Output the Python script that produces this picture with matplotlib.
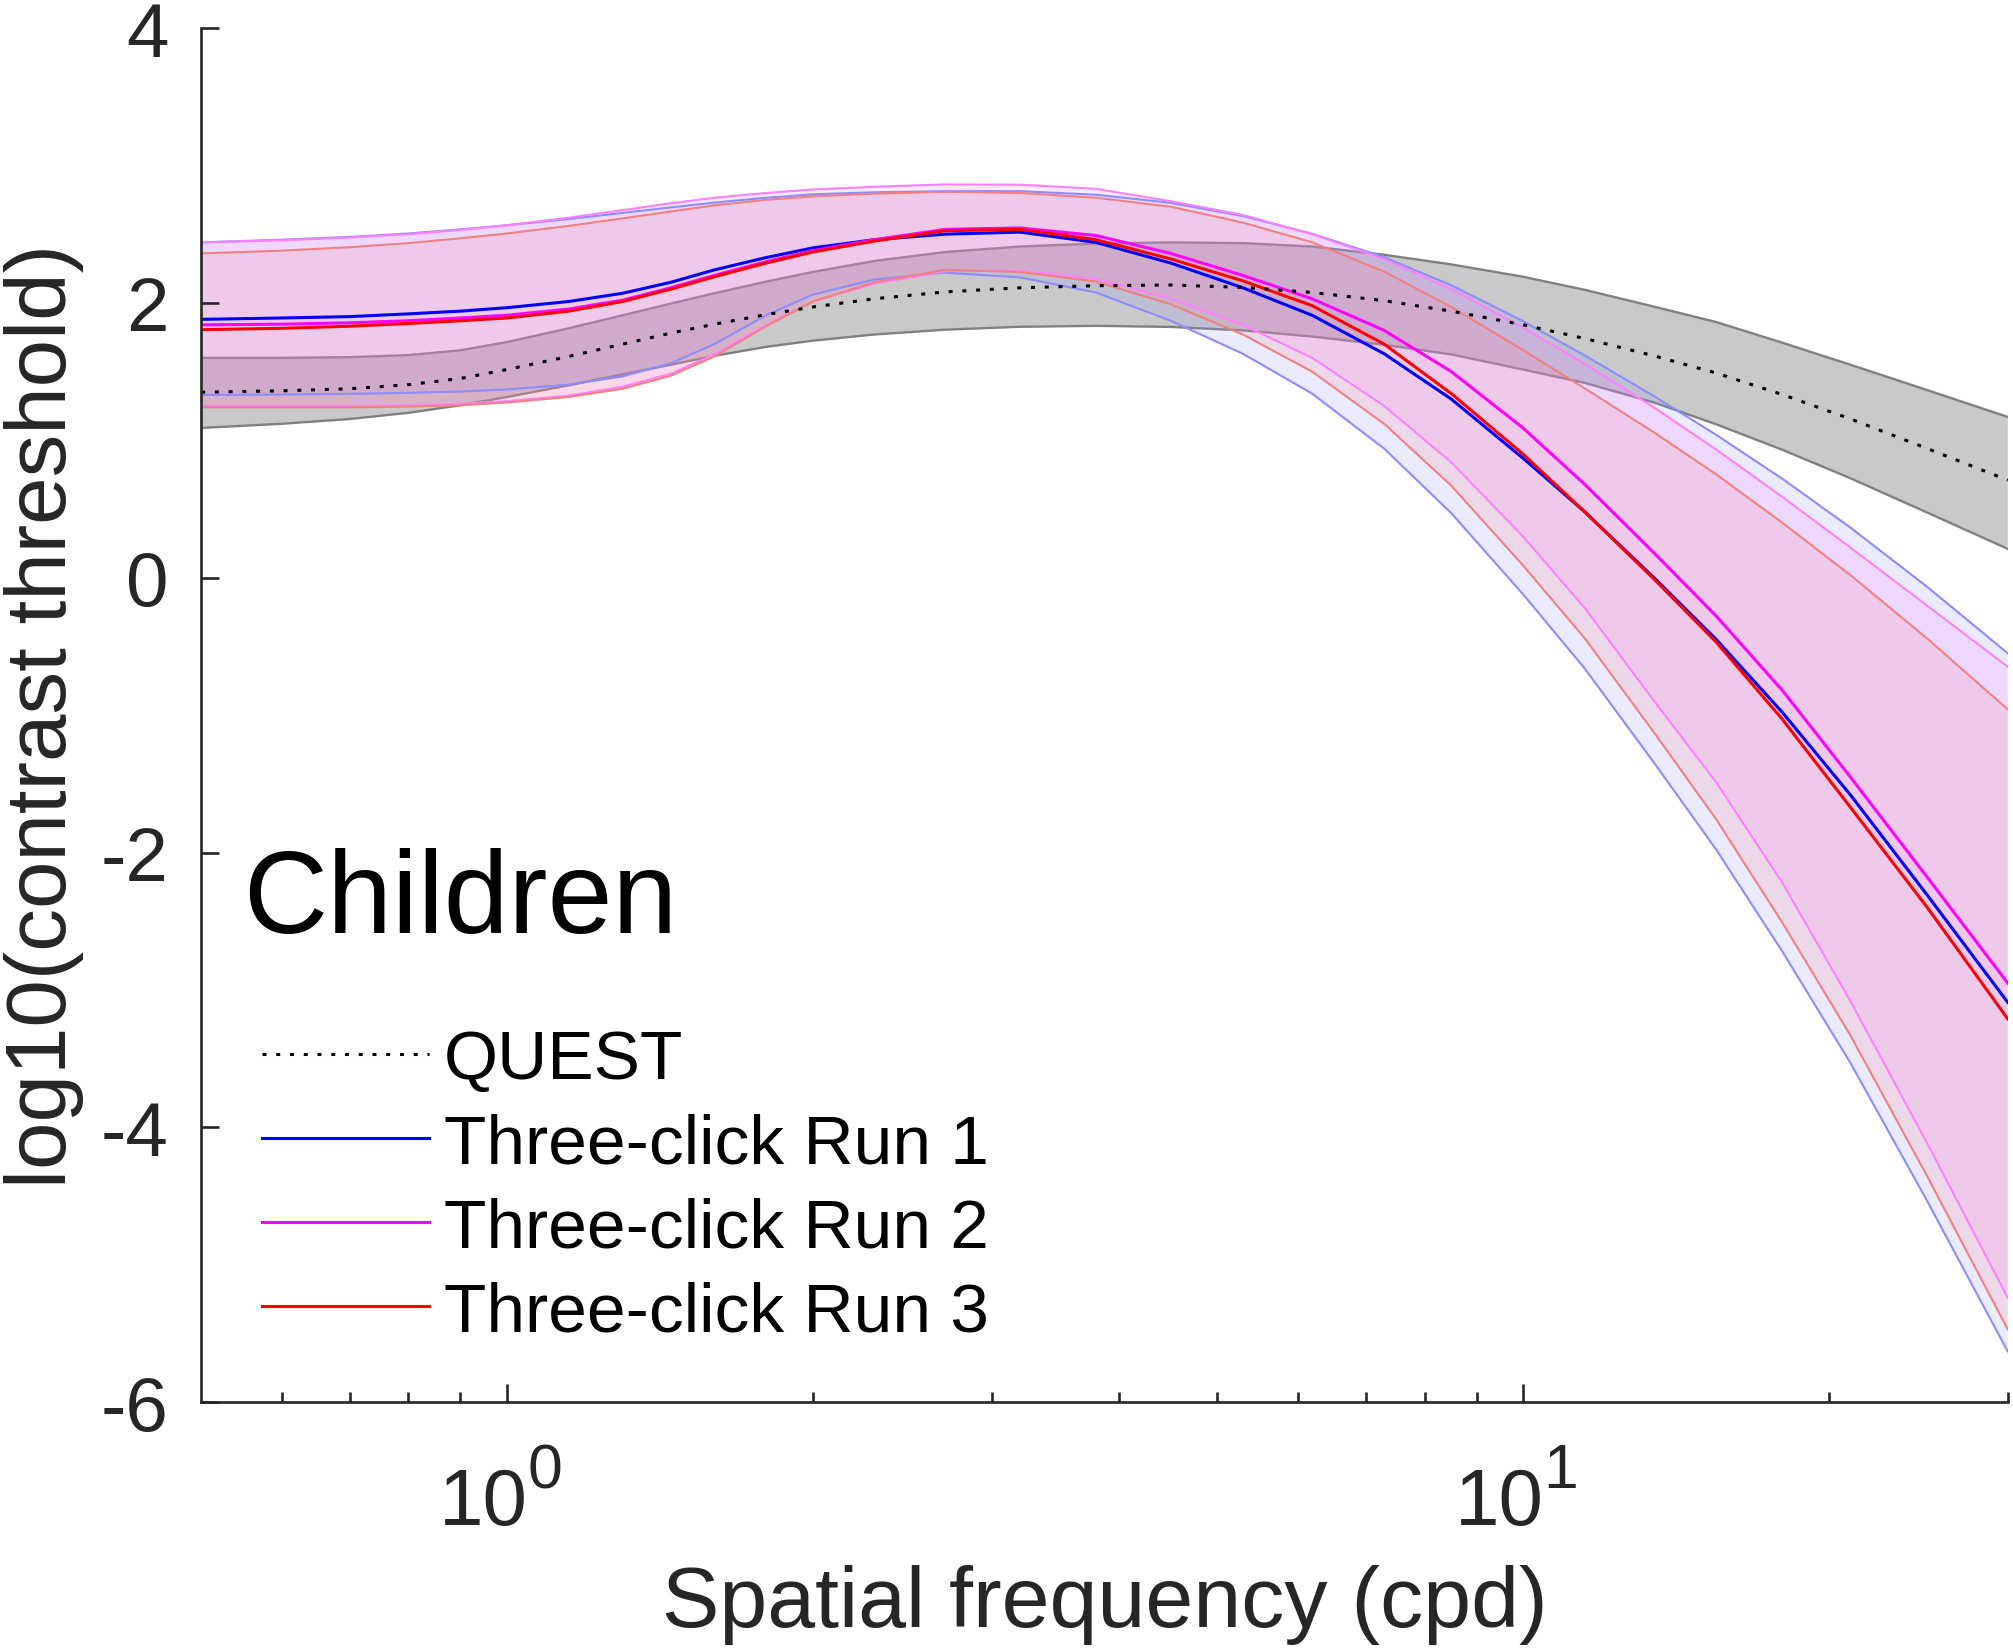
import numpy as np
import matplotlib.pyplot as plt
from matplotlib.ticker import FixedLocator, NullFormatter
from matplotlib.transforms import blended_transform_factory, offset_copy

plt.rcParams['font.family'] = ['Liberation Sans', 'DejaVu Sans']
plt.rcParams['axes.unicode_minus'] = False

freq = [0.5, 0.6, 0.7, 0.8, 0.9, 1.0, 1.15, 1.3, 1.45, 1.6, 1.8, 2.0, 2.3, 2.7,
        3.2, 3.8, 4.5, 5.3, 6.2, 7.3, 8.5, 10, 11.5, 13.5, 15.5, 18, 21, 25, 30]

# QUEST: mean and band
quest_mean = [1.35, 1.36, 1.375, 1.405, 1.45, 1.515, 1.61, 1.70, 1.78, 1.845, 1.915, 1.97,
              2.03, 2.08, 2.11, 2.125, 2.13, 2.113, 2.076, 2.016, 1.94, 1.841, 1.741, 1.612,
              1.489, 1.333, 1.156, 0.94, 0.71]
quest_hi = [1.60, 1.60, 1.605, 1.62, 1.655, 1.715, 1.815, 1.91, 1.995, 2.07, 2.155, 2.225,
            2.305, 2.37, 2.41, 2.432, 2.44, 2.435, 2.41, 2.35, 2.28, 2.19, 2.095, 1.97,
            1.86, 1.71, 1.55, 1.365, 1.17]
quest_lo = [1.09, 1.12, 1.155, 1.20, 1.255, 1.315, 1.40, 1.48, 1.55, 1.615, 1.68, 1.725,
            1.77, 1.805, 1.826, 1.833, 1.825, 1.80, 1.755, 1.695, 1.625, 1.515, 1.418, 1.272,
            1.116, 0.931, 0.724, 0.474, 0.21]

# Three-click run 1
run1_mean = [1.88, 1.89, 1.90, 1.92, 1.94, 1.965, 2.01, 2.07, 2.15, 2.24, 2.33, 2.40,
             2.46, 2.50, 2.515, 2.44, 2.29, 2.11, 1.91, 1.63, 1.30, 0.87, 0.48, -0.01,
             -0.45, -0.98, -1.58, -2.31, -3.09]
run1_hi = [2.44, 2.46, 2.48, 2.505, 2.535, 2.565, 2.61, 2.655, 2.695, 2.73, 2.765, 2.79,
           2.805, 2.813, 2.813, 2.787, 2.728, 2.632, 2.503, 2.333, 2.128, 1.867, 1.618, 1.315,
           1.039, 0.72, 0.365, -0.067, -0.55]
run1_lo = [1.33, 1.333, 1.338, 1.345, 1.355, 1.37, 1.405, 1.465, 1.56, 1.70, 1.91, 2.06,
           2.17, 2.22, 2.185, 2.075, 1.87, 1.63, 1.34, 0.94, 0.47, -0.12, -0.66, -1.36,
           -1.98, -2.72, -3.53, -4.537, -5.63]

# Three-click run 2
run2_mean = [1.84, 1.845, 1.855, 1.87, 1.89, 1.91, 1.955, 2.02, 2.11, 2.20, 2.30, 2.38,
             2.46, 2.535, 2.545, 2.49, 2.36, 2.20, 2.03, 1.80, 1.50, 1.09, 0.68, 0.17,
             -0.28, -0.82, -1.45, -2.18, -2.95]
run2_hi = [2.44, 2.455, 2.475, 2.50, 2.53, 2.565, 2.62, 2.675, 2.725, 2.765, 2.80, 2.825,
           2.845, 2.862, 2.86, 2.83, 2.74, 2.64, 2.50, 2.32, 2.10, 1.82, 1.556, 1.232,
           0.932, 0.588, 0.22, -0.204, -0.648]
run2_lo = [1.25, 1.25, 1.25, 1.255, 1.265, 1.285, 1.325, 1.39, 1.485, 1.625, 1.84, 2.01,
           2.14, 2.23, 2.235, 2.175, 2.03, 1.84, 1.60, 1.25, 0.84, 0.30, -0.22, -0.91,
           -1.49, -2.22, -3.08, -4.117, -5.24]

# Three-click run 3
run3_mean = [1.805, 1.815, 1.83, 1.85, 1.87, 1.89, 1.94, 2.01, 2.10, 2.19, 2.29, 2.37,
             2.45, 2.525, 2.535, 2.46, 2.32, 2.16, 1.98, 1.70, 1.34, 0.90, 0.48, -0.02,
             -0.47, -1.03, -1.67, -2.40, -3.21]
run3_hi = [2.36, 2.38, 2.405, 2.435, 2.47, 2.505, 2.56, 2.615, 2.665, 2.71, 2.75, 2.775,
           2.795, 2.808, 2.80, 2.765, 2.70, 2.584, 2.441, 2.228, 1.97, 1.657, 1.378, 1.051,
           0.751, 0.40, 0.019, -0.443, -0.958]
run3_lo = [1.24, 1.24, 1.24, 1.245, 1.255, 1.275, 1.315, 1.375, 1.47, 1.61, 1.83, 2.01,
           2.15, 2.24, 2.225, 2.155, 1.99, 1.77, 1.50, 1.12, 0.67, 0.09, -0.44, -1.14,
           -1.76, -2.51, -3.33, -4.357, -5.47]

labels = ['QUEST', 'Three-click Run 1', 'Three-click Run 2', 'Three-click Run 3']
xmajor = [1, 10]
xmajor_exp = ['0', '1']

AX_COL = '#262626'
runs = [
    (run1_mean, run1_lo, run1_hi, (0, 0, 1), (0.55, 0.55, 1.0)),
    (run2_mean, run2_lo, run2_hi, (1, 0, 1), (1.0, 0.5, 1.0)),
    (run3_mean, run3_lo, run3_hi, (1, 0, 0), (0.95, 0.5, 0.5)),
]

fig = plt.figure(figsize=(20.13, 16.49), dpi=100)
ax = fig.add_axes([0.0999, 0.149, 0.8975, 0.8334])

# QUEST band
ax.fill_between(freq, quest_lo, quest_hi, facecolor=(0.5, 0.5, 0.5), alpha=0.42,
                linewidth=0, zorder=1)
for edge in (quest_lo, quest_hi):
    ax.plot(freq, edge, color=(0.5, 0.5, 0.5), lw=1.7, zorder=1.1)

# three-click bands
for mean, lo, hi, col, light in runs:
    ax.fill_between(freq, lo, hi, facecolor=light, alpha=0.17, linewidth=0, zorder=1.2)
    ax.plot(freq, lo, color=light, lw=1.5, zorder=1.3)
    ax.plot(freq, hi, color=light, lw=1.5, zorder=1.3)

handles = []
h, = ax.plot(freq, quest_mean, color='k', lw=2.2, linestyle=(0, (1.3, 3.2)), zorder=2.1)
handles.append(h)
for mean, lo, hi, col, light in runs:
    h, = ax.plot(freq, mean, color=col, lw=2.2, zorder=2)
    handles.append(h)

ax.set_xscale('log')
ax.set_xlim(0.5, 30)
ax.set_ylim(-6, 4)
ax.set_xticks(xmajor)
ax.xaxis.set_major_formatter(NullFormatter())
ax.xaxis.set_minor_locator(FixedLocator([0.6, 0.7, 0.8, 0.9, 2, 3, 4, 5, 6, 7, 8, 9, 20, 30]))
ax.xaxis.set_minor_formatter(NullFormatter())
ax.set_yticks([-6, -4, -2, 0, 2, 4])
ax.yaxis.set_minor_locator(FixedLocator([]))

ax.spines['top'].set_visible(False)
ax.spines['right'].set_visible(False)
for s in ('left', 'bottom'):
    ax.spines[s].set_linewidth(1.9)
    ax.spines[s].set_color(AX_COL)

ax.tick_params(which='major', direction='in', length=13, width=1.9, colors=AX_COL)
ax.tick_params(which='minor', direction='in', length=7.2, width=1.9, colors=AX_COL)
ax.tick_params(axis='y', which='major', pad=23.5, labelsize=55)

# MATLAB-style 10^n tick labels: base and raised exponent
xt = blended_transform_factory(ax.transData, ax.transAxes)
xt = offset_copy(xt, fig=fig, x=14.8, y=0, units='points')
for val, ex in zip(xmajor, xmajor_exp):
    ax.text(val, -0.0886, '10', transform=xt, ha='right', va='baseline',
            fontsize=57.5, color=AX_COL, clip_on=False)
    ax.text(val, -0.0619, ex, transform=xt, ha='left', va='baseline',
            fontsize=45, color=AX_COL, clip_on=False)

ax.set_xlabel('Spatial frequency (cpd)', fontsize=62, color=AX_COL)
ax.xaxis.set_label_coords(0.5, -0.1177)
ax.set_ylabel('log10(contrast threshold)', fontsize=61.5, color=AX_COL)
ax.yaxis.set_label_coords(-0.065, 0.5)

ax.text(0.023, 0.342, 'Children', transform=ax.transAxes, fontsize=84,
        ha='left', va='baseline', color='k')

ax.legend(handles, labels, loc='upper left', bbox_to_anchor=(0.0338, 0.2724),
          frameon=False, fontsize=50, handlelength=2.4, handletextpad=0.22,
          labelspacing=0.29, borderpad=0, borderaxespad=0)

fig.savefig('out.png', dpi=100)
